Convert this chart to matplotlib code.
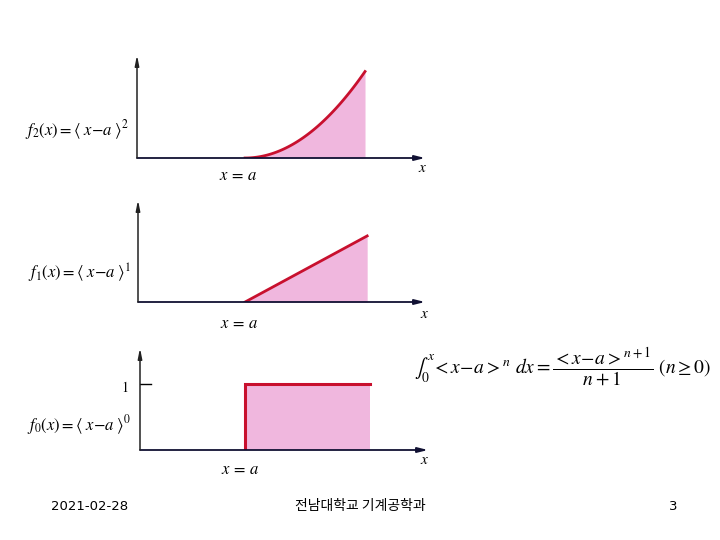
import numpy as np
import matplotlib
matplotlib.use("Agg")
import matplotlib.pyplot as plt

plt.rcParams['mathtext.fontset'] = 'stix'
plt.rcParams['font.family'] = ['Noto Sans CJK KR', 'DejaVu Sans']

# ---- data ----
orders = [2, 1, 0]
a_vals = [2.0, 2.0, 2.0]
x_ends = [4.22, 4.28, 4.37]
x_max = [5.33, 5.36, 5.48]
y_max = [5.87, 3.52, 1.545]
func_labels = [r'$f_2(x) = \langle\; x\!-\!a\;\rangle^2$',
               r'$f_1(x) = \langle\; x\!-\!a\;\rangle^1$',
               r'$f_0(x) = \langle\; x\!-\!a\;\rangle^0$']
loc_label = r'$x\, =\, a$'
axis_label = r'$x$'
formula = r'$\int_0^x\!< x\!-\!a >^n\ dx = \dfrac{< x\!-\!a >^{n+1}}{n+1}\ (n \geq 0)$'
footer_date = '2021-02-28'
footer_title = '전남대학교 기계공학과'
footer_page = '3'

# ---- layout in pixels: (origin_x, origin_y, tip_x, top_y) ----
W, H = 720, 540
boxes = [(137, 158, 425, 55), (138, 302, 425, 200), (140, 450, 428, 348)]
label_pos = [(25, 130), (28, 273), (27, 425)]
loc_pos = [(238, 175), (239, 324), (240, 469)]
xlab_pos = [(423, 168), (425, 313), (425, 460)]

fig = plt.figure(figsize=(7.2, 5.4), dpi=100)
fig.patch.set_facecolor('white')

red = '#c8102e'
pink = '#ec9fd3'

for i, n in enumerate(orders):
    ox, oy, tx, ty = boxes[i]
    ax = fig.add_axes([ox / W, 1 - oy / H, (tx - ox) / W, (oy - ty) / H])
    ax.set_xlim(0, x_max[i])
    ax.set_ylim(0, y_max[i])
    ax.axis('off')
    a = a_vals[i]
    xe = x_ends[i]
    if n == 0:
        ax.fill_between([a, xe], [0, 0], [1, 1], color=pink, alpha=0.75, lw=0)
        ax.plot([a, a, xe], [0, 1, 1], color=red, lw=2.2, solid_joinstyle='miter')
        ax.plot([0, 0.2], [1, 1], color='black', lw=1.0)
        fig.text(125 / W, 1 - 388 / H, '1', fontsize=10, family='STIXGeneral',
                 ha='center', va='center')
    else:
        xs = np.linspace(a, xe, 100)
        ys = (xs - a) ** n
        ax.fill_between(xs, 0, ys, color=pink, alpha=0.75, lw=0)
        ax.plot(xs, ys, color=red, lw=2.0)
    # axes arrows
    ax.annotate('', xy=(x_max[i], 0), xytext=(0, 0), annotation_clip=False,
                arrowprops=dict(arrowstyle='-|>,head_length=0.6,head_width=0.15',
                                color='#111133', lw=1.3, shrinkA=0, shrinkB=0))
    ax.annotate('', xy=(0, y_max[i]), xytext=(0, 0), annotation_clip=False,
                arrowprops=dict(arrowstyle='-|>,head_length=0.6,head_width=0.12',
                                color='#222222', lw=1.1, shrinkA=0, shrinkB=0))
    lx, ly = label_pos[i]
    fig.text(lx / W, 1 - ly / H, func_labels[i], fontsize=12, ha='left', va='center')
    px, py = loc_pos[i]
    fig.text(px / W, 1 - py / H, loc_label, fontsize=12, ha='center', va='center')
    qx, qy = xlab_pos[i]
    fig.text(qx / W, 1 - qy / H, axis_label, fontsize=11, ha='center', va='center')

fig.text(414 / W, 1 - 367 / H, formula, fontsize=14, ha='left', va='center')

fig.text(90 / W, 1 - 506 / H, footer_date, fontsize=9.5, ha='center', va='center',
         family=['DejaVu Sans'])
fig.text(360 / W, 1 - 506 / H, footer_title, fontsize=10, ha='center', va='center')
fig.text(673 / W, 1 - 506 / H, footer_page, fontsize=9.5, ha='center', va='center',
         family=['DejaVu Sans'])

fig.savefig('out.png', dpi=100, facecolor='white')
